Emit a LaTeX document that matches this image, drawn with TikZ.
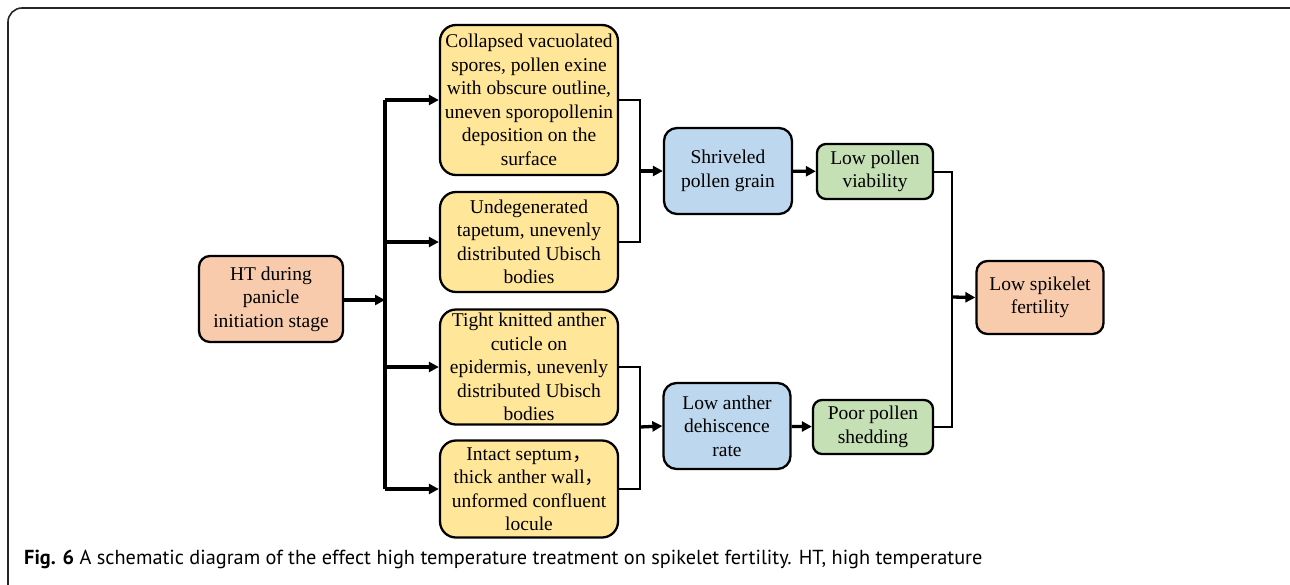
\documentclass[tikz,border=0pt]{standalone}
\usepackage{fontspec}
\setmainfont{Liberation Serif}
\newfontfamily\capfont{PT Sans}
\newfontfamily\cjkfont{Noto Sans CJK SC}
\usepackage{xcolor}
\usetikzlibrary{arrows.meta,positioning,calc}
\definecolor{peach}{HTML}{F8CBAD}
\definecolor{sand}{HTML}{FFE699}
\definecolor{sky}{HTML}{BDD7EE}
\definecolor{leaf}{HTML}{C5E0B4}
\newcommand{\zhcomma}{{\cjkfont ，}}

\begin{document}
\begin{tikzpicture}[
  x=1pt, y=-1pt,
  font=\fontsize{19.5}{23.5}\selectfont,
  box/.style={draw, line width=2.3pt, rounded corners=11pt, align=center,
              inner sep=0pt},
  cause/.style={box, fill=peach},
  effect/.style={box, fill=sand, minimum width=178pt, rounded corners=16pt},
  defect/.style={box, fill=sky, rounded corners=13pt},
  result/.style={box, fill=leaf, rounded corners=9pt},
  arr/.style={-{Triangle[length=10pt,width=10pt]}, line width=3.3pt},
  bus/.style={line width=3.3pt},
  brk/.style={line width=2pt},
]
\useasboundingbox (0,0) rectangle (1290,584);
% outer frame of the figure
\draw[line width=1.6pt, black!85, rounded corners=14pt] (8,8) rectangle (1310,600);

\node[cause, minimum width=144pt, minimum height=86pt] (ht) at (271,299)
  {HT during\\panicle\\initiation stage};
\node[effect, minimum height=150pt] (spore) at (529,100)
  {Collapsed vacuolated\\spores, pollen exine\\with obscure outline,\\uneven sporopollenin\\deposition on the\\surface};
\node[effect, minimum height=100pt] (tape) at (529,242)
  {Undegenerated\\tapetum, unevenly\\distributed Ubisch\\bodies};
\node[effect, minimum height=115pt] (cuti) at (529,367)
  {Tight knitted anther\\cuticle on\\epidermis, unevenly\\distributed Ubisch\\bodies};
\node[effect, minimum height=97pt] (sept) at (529,489)
  {Intact septum\zhcomma\\thick anther wall\zhcomma\\unformed confluent\\locule};
\node[defect, minimum width=128pt, minimum height=86pt] (grain) at (728,171)
  {Shriveled\\pollen grain};
\node[defect, minimum width=127pt, minimum height=86pt] (dehis) at (727,426)
  {Low anther\\dehiscence\\rate};
\node[result, minimum width=116pt, minimum height=55pt] (viab) at (875,171.5)
  {Low pollen\\viability};
\node[result, minimum width=120pt, minimum height=54pt] (shed) at (873,427)
  {Poor pollen\\shedding};
\node[cause, minimum width=127pt, minimum height=73pt] (fert) at (1040,297.5)
  {Low spikelet\\fertility};

\coordinate (split) at (385,300);
\coordinate (join1) at (640,171);
\coordinate (join2) at (640,427);
\coordinate (join3) at (952,297);

% HT fans out to the four anther traits
\draw[arr] (ht.east |- split) -- (split);
\draw[bus] (split |- spore.east) -- (split |- sept.east);
\foreach \n in {spore,tape,cuti,sept}
  \draw[arr] (split |- \n.west) -- (\n.west);

% traits merge into pollen and anther defects
\draw[brk] (spore.east) -- (join1 |- spore.east) |- (tape.east);
\draw[brk] (cuti.east) -- (join2 |- cuti.east) |- (sept.east);
\draw[arr] (join1) -- (grain.west);
\draw[arr] (join2) -- (dehis.west);
\draw[arr] (grain) -- (viab);
\draw[arr] (dehis) -- (shed);

\draw[brk] (viab.east) -- (join3 |- viab.east) |- (shed.east);
\draw[arr] (join3) -- (fert.west);

\node[anchor=base west, inner sep=0pt, font=\capfont\fontsize{20.3}{23}\selectfont] (cap) at (24,564)
  {\textbf{Fig. 6} A schematic diagram of the effect high temperature treatment on spikelet fertility. HT, high temperature};
\end{tikzpicture}
\end{document}
